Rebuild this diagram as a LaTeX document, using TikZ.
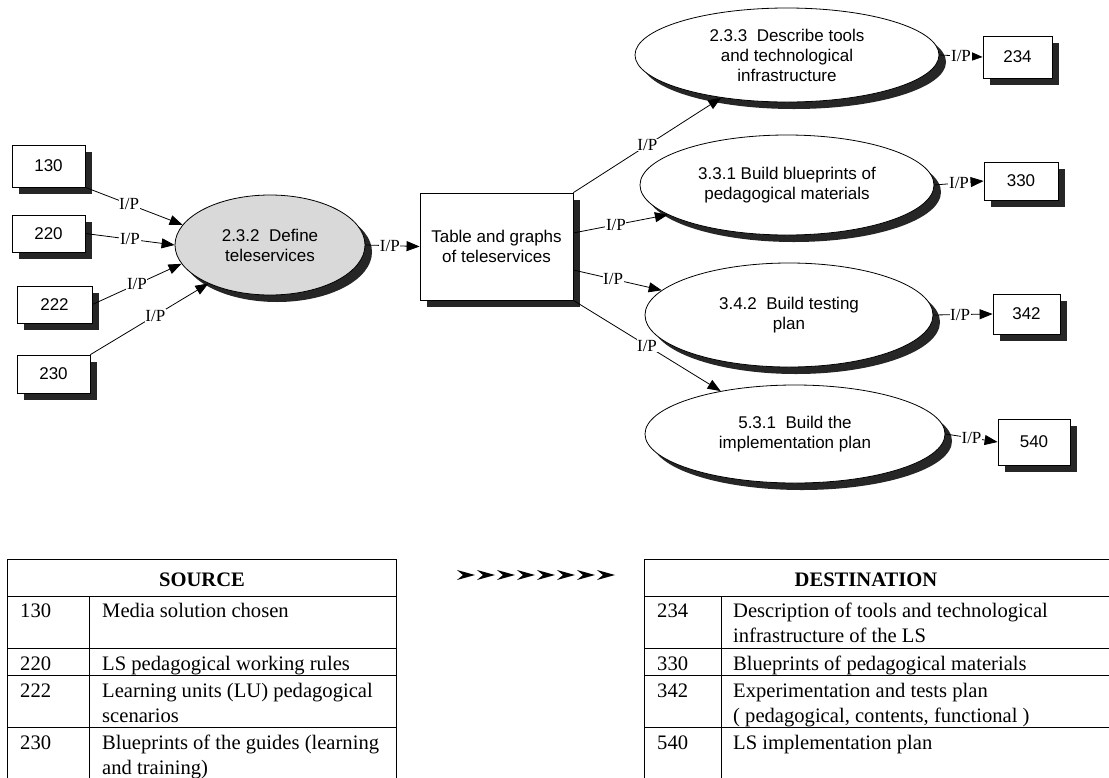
\documentclass[tikz,border=0pt]{standalone}
\usepackage{fontspec}
\setmainfont{Liberation Serif}
\newfontfamily\arialfam{Liberation Sans}
\usetikzlibrary{shapes.geometric,arrows.meta,shadows}
\newcommand\dgfont{\arialfam\fontsize{17}{20}\selectfont}
\newcommand\lbfont{\fontsize{17}{20}\selectfont}
\newcommand\tbfont{\fontsize{20.6}{25}\selectfont}
\begin{document}
\begin{tikzpicture}[x=1pt,y=-1pt,
  lw/.style={line width=0.8pt},
  shad/.style={drop shadow={shadow xshift=7pt,shadow yshift=-7pt,fill=black!85,opacity=1}},
  numbox/.style={draw,lw,fill=white,shad,font=\dgfont,inner sep=0pt},
  proc/.style={ellipse,draw,lw,fill=white,shad,font=\dgfont,align=center,inner sep=0pt},
  lbl/.style={fill=white,font=\lbfont,inner sep=0.6pt},
  arr/.style={lw,-{Triangle[length=13pt,width=10pt]}},
  ttext/.style={anchor=base west,font=\tbfont,inner sep=0pt},
  thead/.style={anchor=base,font=\tbfont\bfseries,inner sep=0pt},
  chev/.style={fill=black}]
\clip (0,0) rectangle (1109,777);
\fill[white] (0,0) rectangle (1109,777);

% left input boxes
\node[numbox,minimum width=73pt,minimum height=42pt] (b130) at (48.5,166) {130};
\node[numbox,minimum width=73pt,minimum height=37pt] (b220) at (48.5,233.5) {220};
\node[numbox,minimum width=75pt,minimum height=37pt] (b222) at (54.5,304.5) {222};
\node[numbox,minimum width=73pt,minimum height=38pt] (b230) at (53.5,374) {230};

% central process
\node[proc,fill=black!15,minimum width=190pt,minimum height=100pt] (e232) at (270,245)
  {2.3.2\ \ Define\\teleservices};
\node[numbox,minimum width=153pt,minimum height=107pt,align=center] (t) at (496.5,246.5)
  {Table and graphs\\of teleservices};

% right processes
\node[proc,minimum width=304pt,minimum height=94pt] (e233) at (787,55)
  {2.3.3\ \ Describe tools\\and technological\\infrastructure};
\node[proc,minimum width=294pt,minimum height=100pt] (e331) at (787,185)
  {3.3.1 Build blueprints of\\pedagogical materials};
\node[proc,minimum width=288pt,minimum height=104pt] (e342) at (789,315)
  {3.4.2\ \ Build testing\\plan};
\node[proc,minimum width=300pt,minimum height=98pt] (e531) at (795,434)
  {5.3.1\ \ Build the\\implementation plan};

% output boxes
\node[numbox,minimum width=69pt,minimum height=42pt] (b234) at (1017.5,57) {234};
\node[numbox,minimum width=74pt,minimum height=38pt] (b330) at (1021,181) {330};
\node[numbox,minimum width=67pt,minimum height=40pt] (b342) at (1026.5,314) {342};
\node[numbox,minimum width=72pt,minimum height=46pt] (b540) at (1034,442) {540};

% connectors
\draw[arr] (b130.south east) -- (e232.167) node[lbl,pos=.45] (l1) {I/P};
\draw[arr] (b220.east) -- (e232.180) node[lbl,pos=.5] (l2) {I/P};
\draw[arr] (b222.east) -- (e232.192) node[lbl,pos=.5] (l3) {I/P};
\draw[arr] (b230.north east) -- (e232.212) node[lbl,pos=.55] (l4) {I/P};
\draw[arr] (e232.east) -- (t.west) node[lbl,pos=.45] (l5) {I/P};
\draw[arr] (t.north east) -- (e233.213) node[lbl,pos=.5] (l6) {I/P};
\draw[arr] (t.10) -- (e331.194) node[lbl,pos=.45] (l7) {I/P};
\draw[arr] (t.-17) -- (e342.169) node[lbl,pos=.45] (l8) {I/P};
\draw[arr] (t.south east) -- (e531.150) node[lbl,pos=.5] (l9) {I/P};
\draw[arr] (e233.east) -- (b234.west) node[lbl,pos=.5] (l10) {I/P};
\draw[arr] (e331.east) -- (b330.west) node[lbl,pos=.5] (l11) {I/P};
\draw[arr] (e342.east) -- (b342.west) node[lbl,pos=.45] (l12) {I/P};
\draw[arr] (e531.east) -- (b540.west) node[lbl,pos=.5] (l13) {I/P};

% chevrons
\foreach \i in {0,...,7}{
  \fill[chev] ({457+20*\i},570) -- ({475+20*\i},575) -- ({457+20*\i},580) -- ({463+20*\i},575) -- cycle;
}

% SOURCE table
\draw[lw] (7,780) -- (7,559) -- (396,559) -- (396,780);
\draw[lw] (7,596) -- (396,596);
\draw[lw] (7,648) -- (396,648);
\draw[lw] (7,675) -- (396,675);
\draw[lw] (7,727) -- (396,727);
\draw[lw] (89,596) -- (89,780);
\node[thead] (sh) at (202,586) {SOURCE};
\node[ttext] (s1n) at (20,617) {130};
\node[ttext] (s1t) at (102,617) {Media solution chosen};
\node[ttext] (s2n) at (20,670) {220};
\node[ttext] (s2t) at (102,670) {LS pedagogical working rules};
\node[ttext] (s3n) at (20,697) {222};
\node[ttext] (s3t) at (102,697) {Learning units (LU) pedagogical};
\node[ttext] (s3u) at (102,722) {scenarios};
\node[ttext] (s4n) at (20,749) {230};
\node[ttext] (s4t) at (102,749) {Blueprints of the guides (learning};
\node[ttext] (s4u) at (102,774) {and training)};

% DESTINATION table
\draw[lw] (644,780) -- (644,559) -- (1115,559);
\draw[lw] (644,596) -- (1115,596);
\draw[lw] (644,648) -- (1115,648);
\draw[lw] (644,675) -- (1115,675);
\draw[lw] (644,727) -- (1115,727);
\draw[lw] (721,596) -- (721,780);
\node[thead] (dh) at (866,586) {DESTINATION};
\node[ttext] (d1n) at (657,617) {234};
\node[ttext] (d1t) at (733,617) {Description of tools and technological};
\node[ttext] (d1u) at (733,642) {infrastructure of the LS};
\node[ttext] (d2n) at (657,670) {330};
\node[ttext] (d2t) at (733,670) {Blueprints of pedagogical materials};
\node[ttext] (d3n) at (657,697) {342};
\node[ttext] (d3t) at (733,697) {Experimentation and tests plan};
\node[ttext] (d3u) at (733,722) {( pedagogical, contents, functional )};
\node[ttext] (d4n) at (657,749) {540};
\node[ttext] (d4t) at (733,749) {LS implementation plan};
\end{tikzpicture}
\end{document}
